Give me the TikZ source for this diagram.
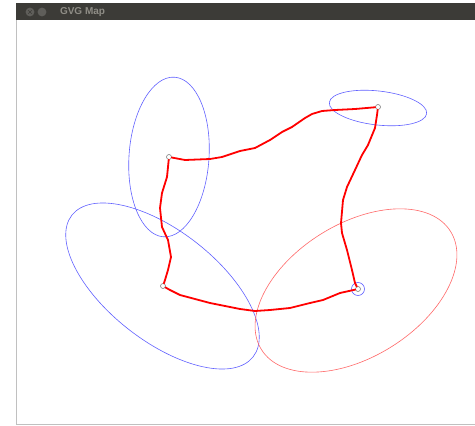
\documentclass[tikz,border=0pt]{standalone}
\usepackage{fontspec}
\setsansfont{Liberation Sans}
\definecolor{barcol}{HTML}{3C3B37}
\definecolor{btncol}{HTML}{5F5E5A}
\definecolor{titlecol}{HTML}{8F8D86}
\definecolor{framecol}{HTML}{C0C0C0}
\definecolor{zoneblue}{HTML}{6262FF}
\definecolor{zonered}{HTML}{FF6868}

\begin{document}
\begin{tikzpicture}[x=1pt,y=-1pt,
	vertex/.style={circle,draw=gray,fill=white,line width=.6pt,inner sep=0pt,minimum size=5pt},
	gvg/.style={red,line width=1.8pt,line join=round,line cap=round},
	zone/.style={line width=.6pt}]
	\useasboundingbox (0,0) rectangle (475,426);
	\fill[white] (0,0) rectangle (475,426);
	% window
	\fill[barcol] (16,3) rectangle (475,20);
	\draw[framecol,line width=1pt] (16,20) -- (16,424) -- (475,424);
	\fill[btncol] (30,12) circle (4.4);
	\fill[btncol] (42,12) circle (4.4);
	\draw[barcol,line width=.7pt] (28.3,10.3) -- (31.7,13.7) (28.3,13.7) -- (31.7,10.3);
	\node[titlecol,font=\sffamily\bfseries\fontsize{10}{11}\selectfont,anchor=west] (title) at (56.5,12) {GVG Map};
	% zones
	\draw[zone,zoneblue,rotate around={-4:(169,157)}] (169,157) ellipse (40 and 80);
	\draw[zone,zoneblue,rotate around={-6.5:(378,108)}] (378,108) ellipse (49 and 17);
	\draw[zone,zoneblue,rotate around={-38:(162.5,286)}] (162.5,286) ellipse (115 and 55);
	\draw[zone,zonered,rotate around={32:(356,290.5)}] (356,290.5) ellipse (111.5 and 66.5);
	\draw[zone,zoneblue] (358,289) circle (6.5);
	% meet points
	\node[vertex] (m1) at (169,157) {};
	\node[vertex] (m2) at (378,107) {};
	\node[vertex] (m3) at (163,286) {};
	\node[vertex] (m4) at (358,289) {};
	% edges
	\draw[gvg] (m1) -- (185,160) -- (210,159) -- (222,157) -- (240,151) -- (255,148) -- (270,140)
		-- (282,132) -- (292,127) -- (305,118) -- (312,114) -- (322,111) -- (335,110) -- (355,109) -- (m2);
	\draw[gvg] (m2) -- (377,115) -- (375,128) -- (368,145) -- (362,155) -- (355,170) -- (347,187)
		-- (343,200) -- (341,223) -- (342,233) -- (347,250) -- (352,270) -- (355,283) -- (m4);
	\draw[gvg] (m4) -- (340,293) -- (323,300) -- (310,303) -- (290,308) -- (270,310)
		-- (255,311) -- (240,309) -- (225,306) -- (210,303) -- (195,299) -- (180,295) -- (170,290) -- (m3);
	\draw[gvg] (m3) -- (165,280) -- (168,270) -- (171,257) -- (168,240) -- (162,227) -- (160,208)
		-- (162,193) -- (167,177) -- (m1);
\end{tikzpicture}
\end{document}
